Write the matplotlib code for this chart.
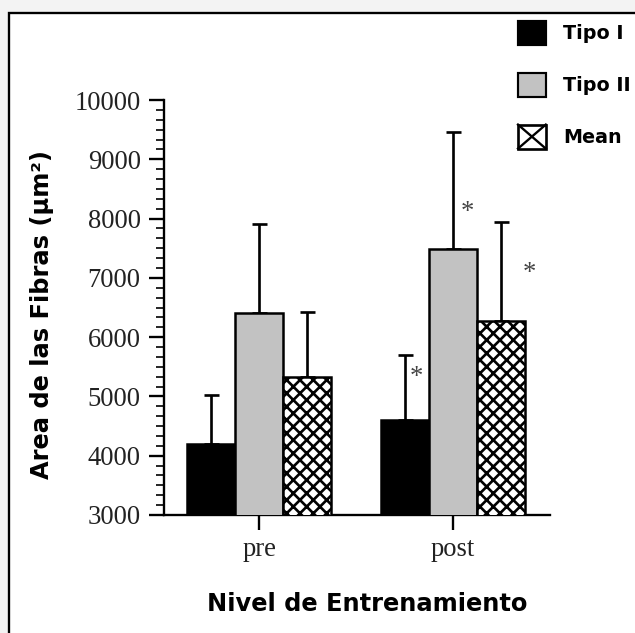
import matplotlib
matplotlib.use("Agg")
import matplotlib.pyplot as plt
import numpy as np
from matplotlib.patches import Rectangle, Patch
from matplotlib.lines import Line2D
from matplotlib.legend_handler import HandlerBase
from matplotlib.ticker import AutoMinorLocator

# ---- data ----
groups = ["pre", "post"]
series = ["Tipo I", "Tipo II", "Mean"]
tipo1 = [4200, 4600]
tipo2 = [6410, 7490]
mean_ = [5330, 6270]
tipo1_err = [820, 1100]
tipo2_err = [1500, 1970]
mean_err = [1090, 1670]
# significance markers (post group): series index and y level
star_series = [0, 1, 2]
star_y = [5320, 8110, 7080]
yticks = [3000, 4000, 5000, 6000, 7000, 8000, 9000, 10000]

DPI = 120
W, H = 635, 633
plt.rcParams['hatch.linewidth'] = 1.6
fig = plt.figure(figsize=(W / DPI, H / DPI), dpi=DPI, facecolor="#f3f3f3")

# white panel with black border
panel = Rectangle((8.5 / W, -0.1), 1.2, 1 - 13.5 / H + 0.1, transform=fig.transFigure,
                  facecolor="white", edgecolor="black", linewidth=1.4, zorder=-5)
fig.patches.append(panel)

ax = fig.add_axes([164 / W, 1 - 515 / H, (550 - 164) / W, (515 - 100) / H], zorder=2)
ax.set_facecolor("none")

x = np.arange(len(groups))
bw = 0.247
colors = ["black", "#c2c2c2", "white"]
hatches = [None, None, "xxx"]
vals = [tipo1, tipo2, mean_]
errs = [tipo1_err, tipo2_err, mean_err]
offsets = [-bw, 0, bw]
for v, e, c, h, off in zip(vals, errs, colors, hatches, offsets):
    ax.errorbar(x + off, v, yerr=[np.zeros(len(v)), e], fmt="none", ecolor="black",
                elinewidth=1.6, capsize=4.5, capthick=1.6, zorder=2)
    ax.bar(x + off, v, width=bw, bottom=0, color=c, edgecolor="black",
           linewidth=1.5, hatch=h, zorder=3)

for si, sy in zip(star_series, star_y):
    sx = x[1] + offsets[si] + [0.06, 0.072, 0.145][si]
    ax.text(sx, sy, "*", ha="center", va="center", fontsize=16,
            family="Liberation Serif", color="#444444")

ax.set_xlim(-0.49, 1.50)
ax.set_ylim(3000, 10000)
ax.set_yticks(yticks)
ax.yaxis.set_minor_locator(AutoMinorLocator(6))
ax.set_xticks(x)
ax.set_xticklabels(groups)
for s in ["top", "right"]:
    ax.spines[s].set_visible(False)
for s in ["left", "bottom"]:
    ax.spines[s].set_linewidth(1.4)
ax.tick_params(axis="y", which="major", length=9, width=1.4, pad=5,
               labelsize=16, labelcolor="#222222")
ax.tick_params(axis="y", which="minor", length=5, width=1.0)
ax.tick_params(axis="x", which="major", length=9, width=1.4, pad=4.5,
               labelsize=16, labelcolor="#222222")
for lab in ax.get_xticklabels() + ax.get_yticklabels():
    lab.set_family("Liberation Serif")

fig.text(42 / W, 1 - 315 / H, "Area de las Fibras (µm²)", rotation=90, ha="center",
         va="center", fontsize=14.5, fontweight="bold", family="DejaVu Sans")
fig.text(367 / W, 1 - 604 / H, "Nivel de Entrenamiento", ha="center", va="center",
         fontsize=14.5, fontweight="bold", family="DejaVu Sans")


class CrossBoxHandler(HandlerBase):
    def create_artists(self, legend, orig_handle, xdescent, ydescent, width, height,
                       fontsize, trans):
        x0, y0 = -xdescent, -ydescent
        r = Rectangle((x0, y0), width, height, facecolor="white", edgecolor="black",
                      linewidth=1.6, transform=trans)
        l1 = Line2D([x0, x0 + width], [y0, y0 + height], color="black", lw=1.4,
                    transform=trans)
        l2 = Line2D([x0, x0 + width], [y0 + height, y0], color="black", lw=1.4,
                    transform=trans)
        return [r, l1, l2]


mean_handle = Patch(facecolor="white", edgecolor="black")
handles = [Patch(facecolor="black", edgecolor="black", linewidth=1.3),
           Patch(facecolor="#c2c2c2", edgecolor="black", linewidth=1.3),
           mean_handle]
leg = fig.legend(handles, series, loc="upper left", bbox_to_anchor=(518 / W, 1 - 21 / H),
                 frameon=False, borderpad=0, borderaxespad=0, handlelength=1.45,
                 handleheight=1.55, labelspacing=1.45, handletextpad=0.9,
                 handler_map={mean_handle: CrossBoxHandler()},
                 prop={"family": "DejaVu Sans", "weight": "bold", "size": 11.5})

fig.savefig("out.png", dpi=DPI, facecolor=fig.get_facecolor())
